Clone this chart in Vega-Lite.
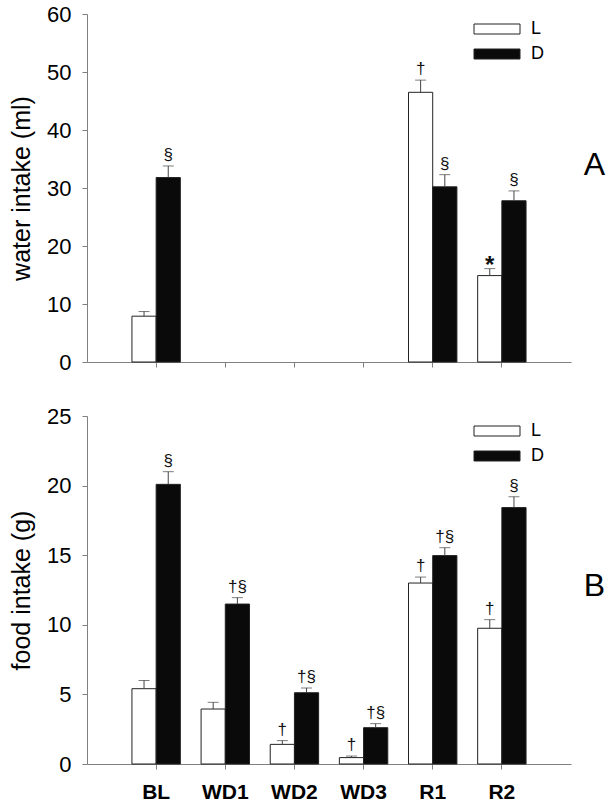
{
  "$schema": "https://vega.github.io/schema/vega-lite/v6.json",
  "padding": {"left": 9, "top": 3, "right": 2, "bottom": 2},
  "background": "white",
  "config": {
    "view": {"stroke": null},
    "font": "Liberation Sans",
    "axis": {
      "domainColor": "#808080",
      "tickColor": "#808080",
      "tickSize": 5,
      "labelColor": "black",
      "titleColor": "black",
      "labelFont": "Liberation Sans",
      "titleFont": "Liberation Sans",
      "grid": false
    },
    "legend": {
      "labelFont": "Liberation Sans"
    }
  },
  "datasets": {
    "water": [
      {"day": "BL", "cond": "L", "val": 7.9, "upper": 8.7, "ann": ""},
      {"day": "BL", "cond": "D", "val": 31.8, "upper": 33.8, "ann": "§"},
      {"day": "R1", "cond": "L", "val": 46.5, "upper": 48.6, "ann": "†"},
      {"day": "R1", "cond": "D", "val": 30.2, "upper": 32.3, "ann": "§"},
      {"day": "R2", "cond": "L", "val": 14.9, "upper": 16.1, "ann": "*"},
      {"day": "R2", "cond": "D", "val": 27.8, "upper": 29.5, "ann": "§"}
    ],
    "food": [
      {"day": "BL", "cond": "L", "val": 5.41, "upper": 6.0, "ann": ""},
      {"day": "BL", "cond": "D", "val": 20.09, "upper": 21.0, "ann": "§"},
      {"day": "WD1", "cond": "L", "val": 3.95, "upper": 4.43, "ann": ""},
      {"day": "WD1", "cond": "D", "val": 11.49, "upper": 11.95, "ann": "†§"},
      {"day": "WD2", "cond": "L", "val": 1.41, "upper": 1.68, "ann": "†"},
      {"day": "WD2", "cond": "D", "val": 5.12, "upper": 5.46, "ann": "†§"},
      {"day": "WD3", "cond": "L", "val": 0.46, "upper": 0.57, "ann": "†"},
      {"day": "WD3", "cond": "D", "val": 2.61, "upper": 2.9, "ann": "†§"},
      {"day": "R1", "cond": "L", "val": 13.0, "upper": 13.43, "ann": "†"},
      {"day": "R1", "cond": "D", "val": 14.97, "upper": 15.54, "ann": "†§"},
      {"day": "R2", "cond": "L", "val": 9.75, "upper": 10.37, "ann": "†"},
      {"day": "R2", "cond": "D", "val": 18.42, "upper": 19.2, "ann": "§"}
    ]
  },
  "spacing": 32,
  "resolve": {"scale": {"color": "independent", "y": "independent"}, "legend": {"color": "independent"}},
  "vconcat": [
    {
      "width": 484,
      "height": 348,
      "data": {"name": "water"},
      "title": {"text": "A", "orient": "right", "angle": 0, "fontSize": 32, "fontWeight": "normal", "font": "Liberation Sans", "offset": 2, "baseline": "middle", "dy": -23, "color": "black"},
      "encoding": {
        "x": {"field": "day", "type": "nominal", "sort": null,
          "scale": {"domain": ["BL", "WD1", "WD2", "WD3", "R1", "R2"], "paddingInner": 0.3, "paddingOuter": 0.65},
          "axis": {"labels": false, "title": null}},
        "xOffset": {"field": "cond", "type": "nominal", "scale": {"domain": ["L", "D"], "paddingInner": 0, "paddingOuter": 0}}
      },
      "layer": [
        {
          "mark": {"type": "bar", "stroke": "#222", "strokeWidth": 1},
          "encoding": {
            "y": {"field": "val", "type": "quantitative",
              "scale": {"domain": [0, 60], "nice": false},
              "axis": {"values": [0, 10, 20, 30, 40, 50, 60], "title": "water intake (ml)", "titleFontSize": 25, "titleFontWeight": "normal", "labelFontSize": 22, "labelPadding": 11, "titlePadding": 12}},
            "color": {"field": "cond", "type": "nominal",
              "scale": {"domain": ["L", "D"], "range": ["white", "#0a0a0a"]},
              "legend": {"title": null, "orient": "none", "direction": "vertical", "legendX": 401, "legendY": 6,
                "symbolType": "M-4.6,-1H4.6V1H-4.6Z", "symbolSize": 100, "symbolStrokeColor": "#222", "symbolStrokeWidth": 1,
                "labelFontSize": 18, "labelOffset": 25, "rowPadding": 7, "labelColor": "black"}}
          }
        },
        {
          "mark": {"type": "rule", "color": "#444", "strokeWidth": 1},
          "encoding": {
            "y": {"field": "val", "type": "quantitative"},
            "y2": {"field": "upper"}
          }
        },
        {
          "mark": {"type": "tick", "color": "#444", "thickness": 1, "size": 11},
          "encoding": {
            "y": {"field": "upper", "type": "quantitative"}
          }
        },
        {
          "transform": [{"filter": "datum.ann !== '*'"}],
          "mark": {"type": "text", "baseline": "bottom", "dy": -2, "fontSize": 17, "color": "#111"},
          "encoding": {
            "y": {"field": "upper", "type": "quantitative"},
            "text": {"field": "ann"}
          }
        },
        {
          "transform": [{"filter": "datum.ann === '*'"}],
          "mark": {"type": "text", "baseline": "bottom", "dy": 9, "fontSize": 24, "fontWeight": "bold", "color": "#111"},
          "encoding": {
            "y": {"field": "upper", "type": "quantitative"},
            "text": {"field": "ann"}
          }
        }
      ]
    },
    {
      "width": 484,
      "height": 348,
      "data": {"name": "food"},
      "title": {"text": "B", "orient": "right", "angle": 0, "fontSize": 32, "fontWeight": "normal", "font": "Liberation Sans", "offset": 2, "baseline": "middle", "dy": -4, "color": "black"},
      "encoding": {
        "x": {"field": "day", "type": "nominal", "sort": null,
          "scale": {"domain": ["BL", "WD1", "WD2", "WD3", "R1", "R2"], "paddingInner": 0.3, "paddingOuter": 0.65},
          "axis": {"title": null, "labelAngle": 0, "labelFontSize": 21, "labelFontWeight": "bold", "labelPadding": 12}},
        "xOffset": {"field": "cond", "type": "nominal", "scale": {"domain": ["L", "D"], "paddingInner": 0, "paddingOuter": 0}}
      },
      "layer": [
        {
          "mark": {"type": "bar", "stroke": "#222", "strokeWidth": 1},
          "encoding": {
            "y": {"field": "val", "type": "quantitative",
              "scale": {"domain": [0, 25], "nice": false},
              "axis": {"values": [0, 5, 10, 15, 20, 25], "title": "food intake (g)", "titleFontSize": 25, "titleFontWeight": "normal", "labelFontSize": 22, "labelPadding": 11, "titlePadding": 12}},
            "color": {"field": "cond", "type": "nominal",
              "scale": {"domain": ["L", "D"], "range": ["white", "#0a0a0a"]},
              "legend": {"title": null, "orient": "none", "direction": "vertical", "legendX": 401, "legendY": 6,
                "symbolType": "M-4.6,-1H4.6V1H-4.6Z", "symbolSize": 100, "symbolStrokeColor": "#222", "symbolStrokeWidth": 1,
                "labelFontSize": 18, "labelOffset": 25, "rowPadding": 7, "labelColor": "black"}}
          }
        },
        {
          "mark": {"type": "rule", "color": "#444", "strokeWidth": 1},
          "encoding": {
            "y": {"field": "val", "type": "quantitative"},
            "y2": {"field": "upper"}
          }
        },
        {
          "mark": {"type": "tick", "color": "#444", "thickness": 1, "size": 11},
          "encoding": {
            "y": {"field": "upper", "type": "quantitative"}
          }
        },
        {
          "mark": {"type": "text", "baseline": "bottom", "dy": -2, "fontSize": 17, "color": "#111"},
          "encoding": {
            "y": {"field": "upper", "type": "quantitative"},
            "text": {"field": "ann"}
          }
        }
      ]
    }
  ]
}
